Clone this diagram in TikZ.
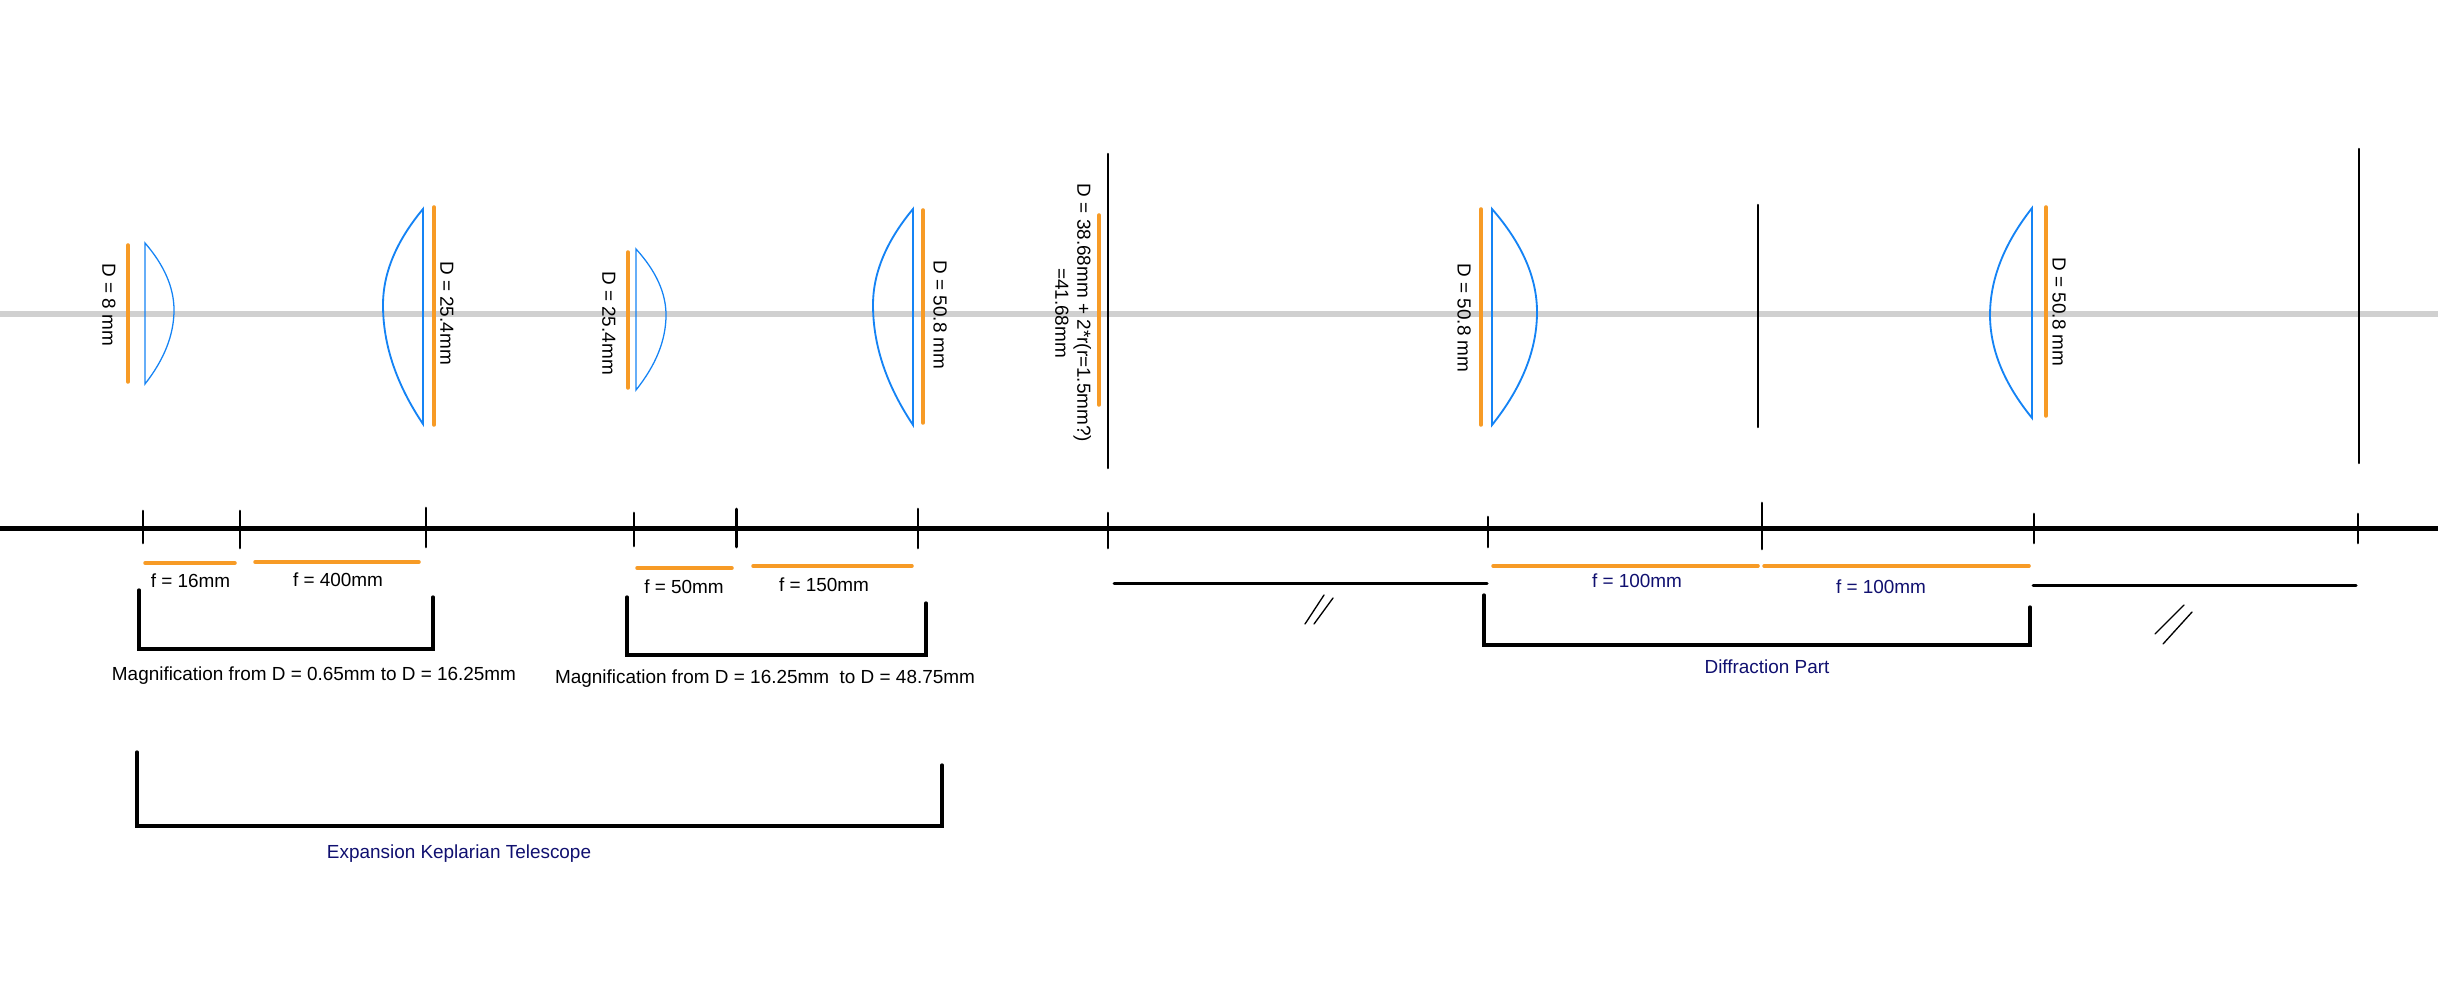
\documentclass[tikz,border=0pt]{standalone}
\usepackage{fontspec}
\setmainfont{Liberation Sans}
\definecolor{orng}{HTML}{F79B26}
\definecolor{lensb}{HTML}{1483F5}
\definecolor{axisg}{HTML}{D0D0D0}
\definecolor{navyt}{HTML}{101070}
\tikzset{
  lens/.style={draw=lensb,line width=0.55pt,line join=miter},
  lensthin/.style={draw=lensb,line width=0.38pt,line join=miter},
  orangebar/.style={draw=orng,line width=1.05pt,line cap=round},
  tick/.style={draw=black,line width=0.8pt,line cap=round},
  blk/.style={draw=black,line width=0.75pt,line cap=round},
  seg/.style={draw=black,line width=0.9pt,line cap=round},
  brk/.style={draw=black,line width=1pt,line cap=round,line join=miter},
  slash/.style={draw=black,line width=0.4pt,line cap=round},
  lbl/.style={font=\fontsize{5.68}{6.6}\selectfont,inner sep=0pt,text=black},
  nlbl/.style={lbl,text=navyt},
  vlbl/.style={lbl,rotate=-90,align=center},
}
% plano-convex lens: style, flat x, top y, bottom y, apex x, apex y
\newcommand{\planolens}[6]{%
  \pgfmathsetmacro{\cax}{#2+2/3*(#5-#2)}%
  \pgfmathsetmacro{\tcy}{#3+(#6-#3)/3}%
  \pgfmathsetmacro{\tdy}{#6-(#6-#3)/3}%
  \pgfmathsetmacro{\bcy}{#6+(#4-#6)/3}%
  \pgfmathsetmacro{\bdy}{#4-(#4-#6)/3}%
  \draw[#1] (#2,#3) .. controls (\cax,\tcy) and (#5,\tdy) .. (#5,#6)
     .. controls (#5,\bcy) and (\cax,\bdy) .. (#2,#4) -- cycle;
}
\begin{document}
\begin{tikzpicture}[x=0.3pt,y=-0.3pt]
\useasboundingbox (0,0) rectangle (2438,1000);
\fill[white] (0,0) rectangle (2438,1000);
% optical axis
\coordinate (axL) at (0,314); \coordinate (axR) at (2438,314);
\draw[axisg,line width=1.6pt] (axL) -- (axR);
% lenses
\planolens{lensthin}{145}{243}{384}{174}{310}
\planolens{lens}{423}{209}{424}{383}{305}
\planolens{lensthin}{636}{249}{390}{666}{315}
\planolens{lens}{913}{209}{425}{873}{305}
\planolens{lens}{1492}{209}{425}{1537}{312}
\planolens{lens}{2032}{208}{418}{1990}{315}
% orange D bars
\foreach \nm/\xx/\ya/\yb in {a/128/245/382,b/434/207/425,c/628/252/388,d/923/210/423,e/1099/215/405,f/1481/209/425,g/2046/207/416}{
  \coordinate (or\nm t) at (\xx,\ya); \coordinate (or\nm b) at (\xx,\yb);
  \draw[orangebar] (or\nm t) -- (or\nm b);
}
% apertures
\foreach \nm/\xx/\ya/\yb in {a/1108/154/468,b/1758/205/427,c/2359/149/463}{
  \coordinate (ap\nm t) at (\xx,\ya); \coordinate (ap\nm b) at (\xx,\yb);
  \draw[blk] (ap\nm t) -- (ap\nm b);
}
% vertical labels
\node[vlbl] (t1) at (109,305) {D = 8 mm};
\node[vlbl] (t2) at (447,313) {D = 25.4mm};
\node[vlbl] (t3) at (609,323) {D = 25.4mm};
\node[vlbl] (t4) at (940,315) {D = 50.8 mm};
\node[vlbl] (t5) at (1073,313) {D = 38.68mm + 2*r(r=1.5mm?)\\=41.68mm};
\node[vlbl] (t6) at (1464,318) {D = 50.8 mm};
\node[vlbl] (t7) at (2059,312) {D = 50.8 mm};
% main rail
\coordinate (rL) at (0,528); \coordinate (rR) at (2438,528);
\draw[black,line width=1.5pt] (rL) -- (rR);
\foreach \nm/\xx/\ya/\yb in {a/143/511/543,b/240/511/548,c/426/508/547,d/634/513/546,e/736.5/509/547,f/918/509/548,g/1108/513/548,h/1488/517/547,i/1762/503/549,j/2034/514/543,k/2358/514/543}{
  \coordinate (tk\nm t) at (\xx,\ya); \coordinate (tk\nm b) at (\xx,\yb);
  \draw[tick] (tk\nm t) -- (tk\nm b);
}
% orange f bars
\foreach \nm/\xa/\xb/\yy in {a/145/235/563,b/255/419/562,c/637/732/568,d/753/912/566,e/1493/1758/566,f/1764/2029/566}{
  \coordinate (fb\nm l) at (\xa,\yy); \coordinate (fb\nm r) at (\xb,\yy);
  \draw[orangebar] (fb\nm l) -- (fb\nm r);
}
% f labels
\node[lbl] (f1) at (190.5,581) {f = 16mm};
\node[lbl] (f2) at (338,580) {f = 400mm};
\node[lbl] (f3) at (684,587) {f = 50mm};
\node[lbl] (f4) at (824,585) {f = 150mm};
\node[nlbl] (f5) at (1637,581) {f = 100mm};
\node[nlbl] (f6) at (1881,587) {f = 100mm};
% free-space segments and break marks
\coordinate (s1l) at (1114,583); \coordinate (s1r) at (1487,583);
\coordinate (s2l) at (2033,585); \coordinate (s2r) at (2356,585);
\draw[seg] (s1l) -- (s1r);
\draw[seg] (s2l) -- (s2r);
\coordinate (m1a) at (1324,595); \coordinate (m1b) at (1305,624);
\coordinate (m2a) at (1333,598); \coordinate (m2b) at (1314,624);
\coordinate (m3a) at (2184,605); \coordinate (m3b) at (2155,634);
\coordinate (m4a) at (2192,612); \coordinate (m4b) at (2163,644);
\draw[slash] (m1a) -- (m1b);
\draw[slash] (m2a) -- (m2b);
\draw[slash] (m3a) -- (m3b);
\draw[slash] (m4a) -- (m4b);
% brackets
\draw[brk] (139,590) -- (139,649) -- (433,649) -- (433,597);
\draw[brk] (627,597) -- (627,655) -- (926,655) -- (926,603);
\draw[brk] (137,752) -- (137,826) -- (942,826) -- (942,765);
\draw[brk] (1484,595) -- (1484,645) -- (2030,645) -- (2030,607);
% bracket labels
\node[lbl] (m1) at (314,676) {Magnification from D = 0.65mm to D = 16.25mm};
\node[lbl] (m2) at (765,679) {Magnification from D = 16.25mm\ \ to D = 48.75mm};
\node[nlbl] (m3) at (459,854) {Expansion Keplarian Telescope};
\node[nlbl] (m4) at (1767,667) {Diffraction Part};
\end{tikzpicture}
\end{document}
